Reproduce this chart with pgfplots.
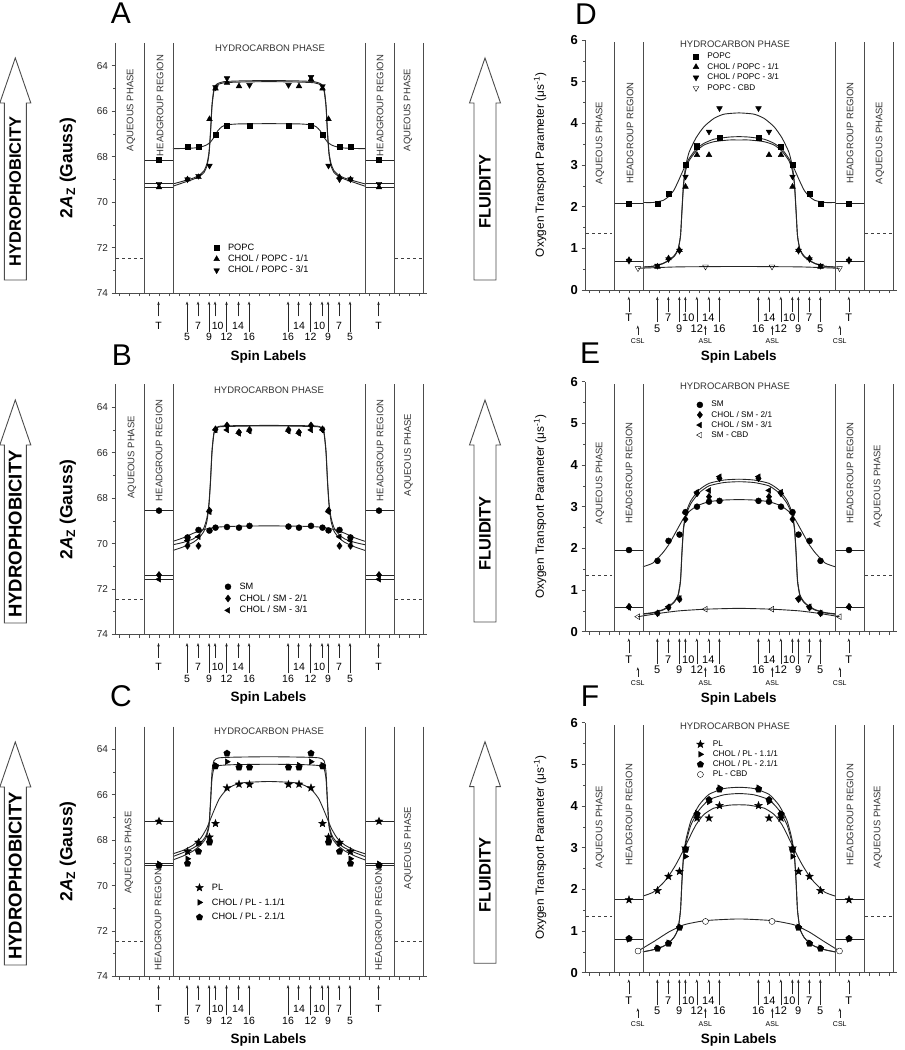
\documentclass[border=0pt]{standalone}
\usepackage{fontspec}
\setmainfont{Liberation Sans}
\usepackage{pgfplots}
\pgfplotsset{compat=1.18}
\usetikzlibrary{arrows.meta}

% filled five-pointed star
\pgfdeclareplotmark{fstar}{%
  \pgfpathmoveto{\pgfpointpolar{90}{\pgfplotmarksize}}%
  \pgfpathlineto{\pgfpointpolar{126}{0.42*\pgfplotmarksize}}%
  \pgfpathlineto{\pgfpointpolar{162}{\pgfplotmarksize}}%
  \pgfpathlineto{\pgfpointpolar{198}{0.42*\pgfplotmarksize}}%
  \pgfpathlineto{\pgfpointpolar{234}{\pgfplotmarksize}}%
  \pgfpathlineto{\pgfpointpolar{270}{0.42*\pgfplotmarksize}}%
  \pgfpathlineto{\pgfpointpolar{306}{\pgfplotmarksize}}%
  \pgfpathlineto{\pgfpointpolar{342}{0.42*\pgfplotmarksize}}%
  \pgfpathlineto{\pgfpointpolar{18}{\pgfplotmarksize}}%
  \pgfpathlineto{\pgfpointpolar{54}{0.42*\pgfplotmarksize}}%
  \pgfpathclose\pgfusepathqfillstroke}

\pgfplotsset{
  panel/.style={anchor=south west, scale only axis, width=312pt, height=250pt, clip=false,
    xmin=-15.4, xmax=15.8, axis x line=bottom, axis y line=left,
    axis line style={-, line width=0.8pt, black!70},
    xtick={-15,...,15}, xticklabels={}, tick align=outside,
    major tick length=3.5pt, minor tick length=2pt,
    every tick/.style={black!70, line width=0.6pt},
    /pgf/number format/assume math mode=true,
    legend cell align=left},
  leftp/.style={panel, ymin=63, ymax=74, y dir=reverse,
    ytick={64,66,...,74}, minor ytick={65,67,...,73},
    yticklabel style={font=\fontsize{10}{10}\selectfont, black!85},
    ylabel={\bfseries 2\textit{A}\textsubscript{Z} (Gauss)},
    every axis y label/.style={at={(axis description cs:-0.151,0.5)}, rotate=90, anchor=center,
      font=\fontsize{17.5}{17.5}\selectfont}},
  rightp/.style={panel, ymin=0, ymax=6, ytick={0,...,6}, minor ytick={0.5,1.5,...,5.5},
    yticklabel style={font=\bfseries\fontsize{13}{13}\selectfont},
    ylabel={Oxygen Transport Parameter (μs\textsuperscript{-1})},
    every axis y label/.style={at={(axis description cs:-0.144,0.5)}, rotate=90, anchor=center,
      font=\fontsize{11.8}{11.8}\selectfont}},
  lg/.style={legend style={at={#1}, anchor=north west, draw=none, fill=none,
      inner sep=0pt, nodes={inner sep=0.6pt},
      /tikz/every odd column/.append style={column sep=8pt}}},
  msq/.style={only marks, black, mark=square*, mark size=2.6pt},
  mup/.style={only marks, black, mark=triangle*, mark size=3.3pt},
  mdn/.style={only marks, black, mark=triangle*, mark size=3.3pt, mark options={rotate=180}},
  mdno/.style={only marks, black, mark=triangle, mark size=3.3pt, mark options={rotate=180, fill=white}},
  mci/.style={only marks, black, mark=*, mark size=3pt},
  mcio/.style={only marks, black, mark=*, mark size=3pt, mark options={fill=white}},
  mdi/.style={only marks, black, mark=diamond*, mark size=3.5pt},
  mlt/.style={only marks, black, mark=triangle*, mark size=3.3pt, mark options={rotate=90}},
  mlto/.style={only marks, black, mark=triangle, mark size=3.3pt, mark options={rotate=90, fill=white}},
  mrt/.style={only marks, black, mark=triangle*, mark size=3.3pt, mark options={rotate=-90}},
  mpe/.style={only marks, black, mark=pentagon*, mark size=3.4pt},
  mst/.style={only marks, black, mark=fstar, mark size=4pt},
  crv/.style={black!85, smooth, tension=0.35, no marks, line width=0.9pt, forget plot},
  tln/.style={black!85, no marks, line width=0.9pt, forget plot},
  dsh/.style={black!75, no marks, line width=0.8pt, dash pattern=on 3pt off 3pt, forget plot},
}
\tikzset{
  vl/.style={black!70, line width=0.8pt},
  reg/.style={font=\fontsize{9.5}{9.5}\selectfont, black!80, rotate=90},
  hcp/.style={font=\fontsize{9.5}{9.5}\selectfont, black!80},
  sarr/.style={-{Stealth[length=3.5pt,width=2.6pt]}, line width=0.5pt, black!85},
}
\newcommand\vlines[2]{\pgfplotsinvokeforeach{-12.5,-9.6,9.6,12.5,15.4}{%
  \draw[vl] (axis cs:##1,#1) -- (axis cs:##1,#2);}}

% spin-label arrows under a left panel; #1 = y of axis bottom
\newcommand\spinL[1]{%
 \begin{scope}[x=1pt, y=1pt, shift={(268.5pt,#1pt)},
   every node/.style={font=\fontsize{10.5}{10.5}\selectfont, inner sep=0pt}]
  \foreach \u/\t/\p in {-11/T/-11,11/T/11,-7.05/7/-7.05,7.05/7/7.05,-5.35/10/-5.08,5.35/10/5.08,-3/14/-3.05,3/14/3.05}{
    \draw[sarr] ({10*\u},-23.5) -- ({10*\u},-8.5);
    \node at ({10*\p},-32.5) {\t};}
  \foreach \u/\t in {-8.15/5,8.15/5,-5.95/9,5.95/9,-4.2/12,4.2/12,-1.95/16,1.95/16}{
    \draw[sarr] ({10*\u},-39) -- ({10*\u},-8.5);
    \node at ({10*\u},-44) {\t};}
  \node[font=\bfseries\fontsize{13.5}{13.5}\selectfont] at (0,-64) {Spin Labels};
 \end{scope}}

% spin-label arrows under a right panel
\newcommand\spinR[1]{%
 \begin{scope}[x=1pt, y=1pt, shift={(738.8pt,#1pt)},
   every node/.style={font=\fontsize{11}{11}\selectfont, inner sep=0pt}]
  \foreach \u/\t/\p in {-11/T/-11,11/T/11,-7.05/7/-7.05,7.05/7/7.05,-5.35/10/-5.05,5.35/10/5.05,-3/14/-3.05,3/14/3.05}{
    \draw[sarr] ({10*\u},-21.7) -- ({10*\u},-6.7);
    \node at ({10*\p},-27.8) {\t};}
  \foreach \u/\t in {-8.15/5,8.15/5,-5.95/9,5.95/9,-4.2/12,4.2/12,-1.95/16,1.95/16}{
    \draw[sarr] ({10*\u},-32) -- ({10*\u},-6.7);
    \node at ({10*\u},-38.3) {\t};}
  \foreach \u/\t in {-10.1/CSL,10.1/CSL,-3.35/ASL,3.35/ASL}{
    \draw[sarr] ({10*\u},-45) -- ({10*\u},-35.5);
    \node[font=\fontsize{7}{7}\selectfont] at ({10*\u},-51) {\t};}
  \node[font=\bfseries\fontsize{13.5}{13.5}\selectfont] at (0,-67) {Spin Labels};
 \end{scope}}

% block arrow: #1 x centre, #2 tip, #3 head base, #4 bottom, #5 text, #6 font size
\newcommand\blockarrow[6]{%
 \begin{scope}[x=1pt, y=1pt]
  \draw[line width=0.9pt, black!70, fill=white] (#1-11,#4) -- (#1-11,#3) -- (#1-15.5,#3)
    -- (#1,#2) -- (#1+15.5,#3) -- (#1+11,#3) -- (#1+11,#4) -- cycle;
  \node[rotate=90, font=\bfseries\fontsize{#6}{#6}\selectfont] at (#1,{(#3+#4)/2}) {#5};
 \end{scope}}

\begin{document}
\begin{tikzpicture}
\useasboundingbox (0pt,0pt) rectangle (905pt,1050pt);

% ================= A =================
\begin{axis}[leftp, at={(115pt,757pt)}, lg={(0.316,0.200)},
  legend style={font=\fontsize{9.2}{9.2}\selectfont, row sep=2pt}]
\addplot[msq] coordinates {(-11,68.15) (-8.15,67.55) (-7.05,67.55) (-5.35,67.05) (-4.2,66.65) (-1.95,66.65) (1.95,66.65) (4.2,66.65) (5.35,67.05) (7.05,67.55) (8.15,67.55) (11,68.15)};
\addlegendentry{POPC}
\addplot[mup] coordinates {(-11,69.35) (-8.15,69.0) (-7.05,68.9) (-5.95,66.35) (-5.35,65.0) (-4.2,64.75) (-3,64.9) (3,64.9) (4.2,64.6) (5.35,65.0) (5.95,66.35) (7.05,68.9) (8.15,69.0) (11,69.35)};
\addlegendentry{CHOL / POPC - 1/1}
\addplot[mdn] coordinates {(-11,69.2) (-8.15,69.0) (-7.05,68.85) (-5.95,68.4) (-5.35,64.95) (-4.2,64.55) (-1.95,64.85) (1.95,64.85) (4.2,64.5) (5.35,64.9) (5.95,68.4) (7.05,69.0) (8.15,69.0) (11,69.2)};
\addlegendentry{CHOL / POPC - 3/1}
\addplot[crv] coordinates {(-9.6,67.65) (-8.5,67.64) (-7.5,67.62) (-6.8,67.57) (-6.3,67.5) (-5.9,67.38) (-5.5,67.15) (-5.1,66.85) (-4.7,66.68) (-4.2,66.6) (-3,66.56) (0,66.55) (3,66.56) (4.2,66.6) (4.7,66.68) (5.1,66.85) (5.5,67.15) (5.9,67.38) (6.3,67.5) (6.8,67.57) (7.5,67.62) (8.5,67.64) (9.6,67.65)};
\addplot[crv] coordinates {(-9.6,69.3) (-8.6,69.15) (-7.6,69.0) (-7,68.88) (-6.5,68.7) (-6.2,68.4) (-6.0,67.9) (-5.85,67.0) (-5.7,65.8) (-5.5,65.1) (-5.2,64.85) (-4.5,64.75) (-3,64.72) (0,64.7) (3,64.72) (4.5,64.75) (5.2,64.85) (5.5,65.1) (5.7,65.8) (5.85,67.0) (6.0,67.9) (6.2,68.4) (6.5,68.7) (7,68.88) (7.6,69.0) (8.6,69.15) (9.6,69.3)};
\addplot[crv] coordinates {(-9.6,69.2) (-8.6,69.08) (-7.6,68.95) (-7,68.82) (-6.5,68.62) (-6.2,68.3) (-6.0,67.8) (-5.85,66.9) (-5.7,65.7) (-5.5,65.0) (-5.2,64.8) (-4.5,64.7) (-3,64.67) (0,64.65) (3,64.67) (4.5,64.7) (5.2,64.8) (5.5,65.0) (5.7,65.7) (5.85,66.9) (6.0,67.8) (6.2,68.3) (6.5,68.62) (7,68.82) (7.6,68.95) (8.6,69.08) (9.6,69.2)};
\addplot[tln] coordinates {(-12.5,68.15) (-9.6,68.15)};
\addplot[tln] coordinates {(-12.5,69.2) (-9.6,69.2)};
\addplot[tln] coordinates {(-12.5,69.35) (-9.6,69.35)};
\addplot[tln] coordinates {(9.6,68.15) (12.5,68.15)};
\addplot[tln] coordinates {(9.6,69.2) (12.5,69.2)};
\addplot[tln] coordinates {(9.6,69.35) (12.5,69.35)};
\addplot[dsh] coordinates {(-15.3,72.47) (-12.6,72.47)};
\addplot[dsh] coordinates {(12.6,72.47) (15.3,72.47)};
\vlines{63}{74}
\node[reg] at (axis cs:-13.8,65.95) {AQUEOUS PHASE};
\node[reg] at (axis cs:-10.9,65.75) {HEADGROUP REGION};
\node[reg] at (axis cs:11.1,65.75) {HEADGROUP REGION};
\node[reg] at (axis cs:13.9,65.95) {AQUEOUS PHASE};
\node[hcp] at (axis cs:0.1,63.25) {HYDROCARBON PHASE};
\end{axis}

% ================= B =================
\begin{axis}[leftp, at={(115pt,415.5pt)}, lg={(0.351,0.210)},
  legend style={font=\fontsize{9.2}{9.2}\selectfont, row sep=2.5pt}]
\addplot[mci] coordinates {(-11,68.55) (-8.15,69.73) (-7.05,69.4) (-5.95,69.43) (-5.35,69.3) (-4.2,69.27) (-3,69.3) (-1.95,69.22) (1.95,69.25) (3,69.3) (4.2,69.22) (5.35,69.3) (5.95,69.42) (7.05,69.4) (8.15,69.73) (11,68.55)};
\addlegendentry{SM}
\addplot[mdi] coordinates {(-11,71.38) (-8.15,70.1) (-7.05,70.1) (-5.95,68.55) (-5.35,64.97) (-4.2,64.8) (-3,65.1) (-1.95,65.0) (1.95,65.0) (3,65.1) (4.2,64.8) (5.35,64.97) (5.95,68.55) (7.05,70.1) (8.15,70.1) (11,71.38)};
\addlegendentry{CHOL / SM - 2/1}
\addplot[mlt] coordinates {(-11,71.57) (-8.15,69.87) (-7.05,69.7) (-5.95,68.6) (-5.35,65.0) (-4.2,65.0) (-3,65.15) (-1.95,65.05) (1.95,65.05) (3,65.15) (4.2,65.0) (5.35,65.0) (5.95,68.6) (7.05,69.7) (8.15,69.87) (11,71.57)};
\addlegendentry{CHOL / SM - 3/1}
\addplot[crv] coordinates {(-9.6,69.9) (-8.6,69.75) (-7.6,69.55) (-6.8,69.42) (-6,69.33) (-5,69.27) (-3.5,69.24) (0,69.22) (3.5,69.24) (5,69.27) (6,69.33) (6.8,69.42) (7.6,69.55) (8.6,69.75) (9.6,69.9)};
\addplot[crv] coordinates {(-9.6,70.3) (-8.6,70.15) (-7.6,69.95) (-7,69.75) (-6.5,69.45) (-6.2,69.0) (-6.0,68.3) (-5.85,67.3) (-5.7,66.0) (-5.5,65.15) (-5.2,64.9) (-4.5,64.85) (0,64.82) (4.5,64.85) (5.2,64.9) (5.5,65.15) (5.7,66.0) (5.85,67.3) (6.0,68.3) (6.2,69.0) (6.5,69.45) (7,69.75) (7.6,69.95) (8.6,70.15) (9.6,70.3)};
\addplot[crv] coordinates {(-9.6,70.05) (-8.6,69.95) (-7.6,69.8) (-7,69.6) (-6.5,69.3) (-6.2,68.85) (-6.0,68.2) (-5.85,67.2) (-5.7,65.9) (-5.5,65.1) (-5.2,64.88) (-4.5,64.82) (0,64.8) (4.5,64.82) (5.2,64.88) (5.5,65.1) (5.7,65.9) (5.85,67.2) (6.0,68.2) (6.2,68.85) (6.5,69.3) (7,69.6) (7.6,69.8) (8.6,69.95) (9.6,70.05)};
\addplot[tln] coordinates {(-12.5,68.55) (-9.6,68.55)};
\addplot[tln] coordinates {(-12.5,71.38) (-9.6,71.38)};
\addplot[tln] coordinates {(-12.5,71.57) (-9.6,71.57)};
\addplot[tln] coordinates {(9.6,68.55) (12.5,68.55)};
\addplot[tln] coordinates {(9.6,71.38) (12.5,71.38)};
\addplot[tln] coordinates {(9.6,71.57) (12.5,71.57)};
\addplot[dsh] coordinates {(-15.3,72.45) (-12.6,72.45)};
\addplot[dsh] coordinates {(12.6,72.45) (15.3,72.45)};
\vlines{63}{74}
\node[reg] at (axis cs:-13.7,66.2) {AQUEOUS PHASE};
\node[reg] at (axis cs:-11.0,65.9) {HEADGROUP REGION};
\node[reg] at (axis cs:11.1,65.9) {HEADGROUP REGION};
\node[reg] at (axis cs:13.95,66.1) {AQUEOUS PHASE};
\node[hcp] at (axis cs:0,63.24) {HYDROCARBON PHASE};
\end{axis}

% ================= C =================
\begin{axis}[leftp, at={(115pt,73.5pt)}, lg={(0.258,0.374)},
  legend style={font=\fontsize{9.2}{9.2}\selectfont, row sep=5.5pt}]
\addplot[mst] coordinates {(-11,67.17) (-8.15,68.5) (-7.05,68.1) (-5.95,67.87) (-5.35,67.27) (-4.2,65.7) (-3,65.54) (-1.95,65.55) (1.95,65.55) (3,65.54) (4.2,65.7) (5.35,67.27) (5.95,67.87) (7.05,68.1) (8.15,68.5) (11,67.17)};
\addlegendentry{PL}
\addplot[mrt] coordinates {(-11,69.04) (-8.15,68.82) (-7.05,68.15) (-5.95,68.0) (-5.35,64.7) (-4.2,64.55) (-3,64.7) (-1.95,64.77) (1.95,64.77) (3,64.7) (4.2,64.55) (5.35,64.7) (5.95,68.0) (7.05,68.15) (8.15,68.82) (11,69.04)};
\addlegendentry{CHOL / PL - 1.1/1}
\addplot[mpe] coordinates {(-11,69.12) (-8.15,69.03) (-7.05,68.5) (-5.95,68.1) (-5.35,64.75) (-4.2,64.18) (-3,64.8) (-1.95,64.8) (1.95,64.8) (3,64.8) (4.2,64.18) (5.35,64.75) (5.95,68.1) (7.05,68.5) (8.15,69.03) (11,69.12)};
\addlegendentry{CHOL / PL - 2.1/1}
\addplot[crv] coordinates {(-9.6,68.6) (-8.6,68.45) (-7.6,68.22) (-6.8,67.9) (-6.2,67.45) (-5.6,66.8) (-5,66.2) (-4.4,65.85) (-3.6,65.6) (-2.5,65.47) (0,65.42) (2.5,65.47) (3.6,65.6) (4.4,65.85) (5,66.2) (5.6,66.8) (6.2,67.45) (6.8,67.9) (7.6,68.22) (8.6,68.45) (9.6,68.6)};
\addplot[crv] coordinates {(-9.6,68.72) (-8.6,68.55) (-7.6,68.35) (-6.8,68.1) (-6.3,67.8) (-6.0,67.3) (-5.85,66.4) (-5.7,65.3) (-5.5,64.85) (-5.0,64.72) (-3.5,64.68) (0,64.66) (3.5,64.68) (5.0,64.72) (5.5,64.85) (5.7,65.3) (5.85,66.4) (6.0,67.3) (6.3,67.8) (6.8,68.1) (7.6,68.35) (8.6,68.55) (9.6,68.72)};
\addplot[crv] coordinates {(-9.6,68.87) (-8.6,68.7) (-7.6,68.48) (-6.8,68.2) (-6.3,67.9) (-6.0,67.4) (-5.85,66.3) (-5.7,65.0) (-5.5,64.5) (-5.0,64.38) (-3.5,64.35) (0,64.33) (3.5,64.35) (5.0,64.38) (5.5,64.5) (5.7,65.0) (5.85,66.3) (6.0,67.4) (6.3,67.9) (6.8,68.2) (7.6,68.48) (8.6,68.7) (9.6,68.87)};
\addplot[tln] coordinates {(-12.5,67.17) (-9.6,67.17)};
\addplot[tln] coordinates {(-12.5,69.04) (-9.6,69.04)};
\addplot[tln] coordinates {(-12.5,69.12) (-9.6,69.12)};
\addplot[tln] coordinates {(9.6,67.17) (12.5,67.17)};
\addplot[tln] coordinates {(9.6,69.04) (12.5,69.04)};
\addplot[tln] coordinates {(9.6,69.12) (12.5,69.12)};
\addplot[dsh] coordinates {(-15.3,72.47) (-12.6,72.47)};
\addplot[dsh] coordinates {(12.6,72.47) (15.3,72.47)};
\vlines{63}{74}
\node[reg] at (axis cs:-14.0,68.55) {AQUEOUS PHASE};
\node[reg] at (axis cs:-11.1,71.5) {HEADGROUP REGION};
\node[reg] at (axis cs:10.95,71.5) {HEADGROUP REGION};
\node[reg] at (axis cs:13.95,68.35) {AQUEOUS PHASE};
\node[hcp] at (axis cs:0,63.2) {HYDROCARBON PHASE};
\end{axis}

% ================= D =================
\begin{axis}[rightp, at={(585pt,760pt)}, lg={(0.346,0.952)},
  legend style={font=\fontsize{8.2}{8.2}\selectfont, row sep=2pt}]
\addplot[msq] coordinates {(-11,2.08) (-8.15,2.08) (-7.05,2.32) (-5.35,3.0) (-4.2,3.44) (-1.95,3.66) (1.95,3.66) (4.2,3.44) (5.35,3.0) (7.05,2.32) (8.15,2.08) (11,2.08)};
\addlegendentry{POPC}
\addplot[mup] coordinates {(-11,0.72) (-8.15,0.56) (-7.05,0.76) (-5.95,0.96) (-5.35,2.48) (-4.2,3.24) (-3,3.24) (3,3.24) (4.2,3.24) (5.35,2.48) (5.95,0.96) (7.05,0.76) (8.15,0.56) (11,0.72)};
\addlegendentry{CHOL / POPC - 1/1}
\addplot[mdn] coordinates {(-11,0.7) (-8.15,0.58) (-7.05,0.74) (-5.95,0.94) (-5.35,2.72) (-4.2,3.48) (-3,3.8) (-1.95,4.36) (1.95,4.36) (3,3.8) (4.2,3.44) (5.35,2.72) (5.95,0.94) (7.05,0.74) (8.15,0.58) (11,0.7)};
\addlegendentry{CHOL / POPC - 3/1}
\addplot[mdno] coordinates {(-10.1,0.52) (-3.35,0.56) (3.3,0.56) (10.05,0.52)};
\addlegendentry{POPC - CBD}
\addplot[crv] coordinates {(-9.6,2.1) (-8.6,2.1) (-7.6,2.15) (-7,2.25) (-6.5,2.4) (-6,2.65) (-5.5,2.92) (-5,3.15) (-4.3,3.38) (-3.5,3.52) (-2.5,3.62) (-1,3.67) (0,3.68) (1,3.67) (2.5,3.62) (3.5,3.52) (4.3,3.38) (5,3.15) (5.5,2.92) (6,2.65) (6.5,2.4) (7,2.25) (7.6,2.15) (8.6,2.1) (9.6,2.1)};
\addplot[crv] coordinates {(-9.6,0.55) (-8.6,0.57) (-7.6,0.64) (-7,0.72) (-6.5,0.82) (-6.1,0.98) (-5.85,1.3) (-5.7,1.9) (-5.55,2.5) (-5.35,2.85) (-5,3.1) (-4.3,3.33) (-3.5,3.48) (-2.5,3.56) (-1,3.6) (0,3.6) (1,3.6) (2.5,3.56) (3.5,3.48) (4.3,3.33) (5,3.1) (5.35,2.85) (5.55,2.5) (5.7,1.9) (5.85,1.3) (6.1,0.98) (6.5,0.82) (7,0.72) (7.6,0.64) (8.6,0.57) (9.6,0.55)};
\addplot[crv] coordinates {(-9.6,0.55) (-8.6,0.57) (-7.6,0.63) (-7,0.71) (-6.5,0.8) (-6.1,0.96) (-5.85,1.3) (-5.7,1.95) (-5.55,2.55) (-5.35,2.95) (-5,3.3) (-4.3,3.65) (-3.5,3.92) (-2.5,4.12) (-1.5,4.22) (0,4.25) (1.5,4.22) (2.5,4.12) (3.5,3.92) (4.3,3.65) (5,3.3) (5.35,2.95) (5.55,2.55) (5.7,1.95) (5.85,1.3) (6.1,0.96) (6.5,0.8) (7,0.71) (7.6,0.63) (8.6,0.57) (9.6,0.55)};
\addplot[crv] coordinates {(-10.1,0.52) (-8,0.54) (-6,0.555) (-3.35,0.56) (0,0.565) (3.3,0.56) (6,0.555) (8,0.54) (10.05,0.52)};
\addplot[tln] coordinates {(-12.5,2.08) (-9.6,2.08)};
\addplot[tln] coordinates {(-12.5,0.68) (-9.6,0.68)};
\addplot[tln] coordinates {(9.6,2.08) (12.5,2.08)};
\addplot[tln] coordinates {(9.6,0.68) (12.5,0.68)};
\addplot[dsh] coordinates {(-15.3,1.36) (-12.7,1.36)};
\addplot[dsh] coordinates {(12.6,1.36) (15.3,1.36)};
\vlines{0}{5.95}
\node[reg] at (axis cs:-13.9,3.53) {AQUEOUS PHASE};
\node[reg] at (axis cs:-10.9,3.77) {HEADGROUP REGION};
\node[reg] at (axis cs:11.1,3.77) {HEADGROUP REGION};
\node[reg] at (axis cs:14.1,3.53) {AQUEOUS PHASE};
\node[hcp] at (axis cs:-0.4,5.9) {HYDROCARBON PHASE};
\end{axis}

% ================= E =================
\begin{axis}[rightp, at={(585pt,418.3pt)}, lg={(0.357,0.925)},
  legend style={font=\fontsize{8.2}{8.2}\selectfont, row sep=1.5pt}]
\addplot[mci] coordinates {(-11,1.96) (-8.15,1.7) (-7.05,2.18) (-5.95,2.33) (-5.35,2.87) (-4.2,3.0) (-3,3.12) (-1.95,3.14) (1.95,3.14) (3,3.12) (4.2,3.0) (5.35,2.87) (5.95,2.33) (7.05,2.18) (8.15,1.7) (11,1.96)};
\addlegendentry{SM}
\addplot[mdi] coordinates {(-11,0.6) (-8.15,0.44) (-7.05,0.58) (-5.95,0.78) (-5.35,2.7) (-4.2,3.32) (-3,3.24) (-1.95,3.68) (1.95,3.68) (3,3.24) (4.2,3.32) (5.35,2.7) (5.95,0.78) (7.05,0.58) (8.15,0.44) (11,0.6)};
\addlegendentry{CHOL / SM - 2/1}
\addplot[mlt] coordinates {(-11,0.58) (-8.15,0.45) (-7.05,0.6) (-5.95,0.8) (-5.35,2.85) (-4.2,3.35) (-3,3.39) (-1.95,3.72) (1.95,3.72) (3,3.39) (4.2,3.35) (5.35,2.85) (5.95,0.8) (7.05,0.6) (8.15,0.45) (11,0.58)};
\addlegendentry{CHOL / SM - 3/1}
\addplot[mlto] coordinates {(-10.1,0.36) (-3.35,0.54) (3.3,0.54) (10.05,0.36)};
\addlegendentry{SM - CBD}
\addplot[crv] coordinates {(-9.6,1.56) (-8.6,1.65) (-7.6,1.9) (-7,2.1) (-6.3,2.4) (-5.6,2.7) (-5,2.88) (-4.2,3.02) (-3,3.12) (-1.5,3.16) (0,3.17) (1.5,3.16) (3,3.12) (4.2,3.02) (5,2.88) (5.6,2.7) (6.3,2.4) (7,2.1) (7.6,1.9) (8.6,1.65) (9.6,1.56)};
\addplot[crv] coordinates {(-9.6,0.42) (-8.6,0.45) (-7.6,0.52) (-7,0.6) (-6.5,0.7) (-6.1,0.85) (-5.85,1.2) (-5.7,1.9) (-5.55,2.45) (-5.3,2.8) (-4.8,3.08) (-4,3.33) (-3,3.5) (-1.5,3.58) (0,3.6) (1.5,3.58) (3,3.5) (4,3.33) (4.8,3.08) (5.3,2.8) (5.55,2.45) (5.7,1.9) (5.85,1.2) (6.1,0.85) (6.5,0.7) (7,0.6) (7.6,0.52) (8.6,0.45) (9.6,0.42)};
\addplot[crv] coordinates {(-9.6,0.43) (-8.6,0.46) (-7.6,0.53) (-7,0.61) (-6.5,0.72) (-6.1,0.88) (-5.85,1.25) (-5.7,1.95) (-5.55,2.5) (-5.3,2.86) (-4.8,3.15) (-4,3.4) (-3,3.56) (-1.5,3.64) (0,3.66) (1.5,3.64) (3,3.56) (4,3.4) (4.8,3.15) (5.3,2.86) (5.55,2.5) (5.7,1.95) (5.85,1.25) (6.1,0.88) (6.5,0.72) (7,0.61) (7.6,0.53) (8.6,0.46) (9.6,0.43)};
\addplot[crv] coordinates {(-10.1,0.36) (-8,0.44) (-6,0.5) (-3.35,0.54) (0,0.56) (3.3,0.54) (6,0.5) (8,0.44) (10.05,0.36)};
\addplot[tln] coordinates {(-12.5,1.96) (-9.6,1.96)};
\addplot[tln] coordinates {(-12.5,0.59) (-9.6,0.59)};
\addplot[tln] coordinates {(9.6,1.96) (12.5,1.96)};
\addplot[tln] coordinates {(9.6,0.59) (12.5,0.59)};
\addplot[dsh] coordinates {(-15.3,1.36) (-12.7,1.36)};
\addplot[dsh] coordinates {(12.6,1.36) (15.3,1.36)};
\vlines{0}{5.95}
\node[reg] at (axis cs:-13.9,3.57) {AQUEOUS PHASE};
\node[reg] at (axis cs:-11.0,3.81) {HEADGROUP REGION};
\node[reg] at (axis cs:11.1,3.81) {HEADGROUP REGION};
\node[reg] at (axis cs:13.9,3.5) {AQUEOUS PHASE};
\node[hcp] at (axis cs:-0.4,5.88) {HYDROCARBON PHASE};
\end{axis}

% ================= F =================
\begin{axis}[rightp, at={(585pt,77.3pt)}, lg={(0.357,0.931)},
  legend style={font=\fontsize{8.2}{8.2}\selectfont, row sep=1.5pt}]
\addplot[mst] coordinates {(-11,1.75) (-8.15,1.97) (-7.05,2.31) (-5.95,2.43) (-5.35,2.99) (-4.2,3.71) (-3,3.71) (-1.95,4.01) (1.95,4.01) (3,3.71) (4.2,3.71) (5.35,2.99) (5.95,2.43) (7.05,2.31) (8.15,1.97) (11,1.75)};
\addlegendentry{PL}
\addplot[mrt] coordinates {(-11,0.8) (-8.15,0.6) (-7.05,0.72) (-5.95,1.1) (-5.35,2.79) (-4.2,3.83) (-3,4.1) (-1.95,4.44) (1.95,4.44) (3,4.1) (4.2,3.83) (5.35,2.79) (5.95,1.1) (7.05,0.72) (8.15,0.6) (11,0.8)};
\addlegendentry{CHOL / PL - 1.1/1}
\addplot[mpe] coordinates {(-11,0.82) (-8.15,0.58) (-7.05,0.7) (-5.95,1.08) (-5.35,2.95) (-4.2,3.8) (-3,4.15) (-1.95,4.4) (1.95,4.4) (3,4.15) (4.2,3.8) (5.35,2.95) (5.95,1.08) (7.05,0.7) (8.15,0.58) (11,0.82)};
\addlegendentry{CHOL / PL - 2.1/1}
\addplot[mcio] coordinates {(-10.1,0.52) (-3.35,1.23) (3.3,1.23) (10.05,0.52)};
\addlegendentry{PL - CBD}
\addplot[crv] coordinates {(-9.6,1.84) (-8.6,1.93) (-7.6,2.15) (-7,2.33) (-6.3,2.6) (-5.6,2.92) (-5,3.22) (-4.3,3.55) (-3.5,3.8) (-2.5,3.95) (-1,4.02) (0,4.03) (1,4.02) (2.5,3.95) (3.5,3.8) (4.3,3.55) (5,3.22) (5.6,2.92) (6.3,2.6) (7,2.33) (7.6,2.15) (8.6,1.93) (9.6,1.84)};
\addplot[crv] coordinates {(-9.6,0.5) (-8.6,0.55) (-7.6,0.63) (-7,0.72) (-6.5,0.85) (-6.1,1.05) (-5.85,1.5) (-5.7,2.2) (-5.55,2.75) (-5.3,3.12) (-4.8,3.55) (-4,3.9) (-3,4.15) (-1.5,4.27) (0,4.3) (1.5,4.27) (3,4.15) (4,3.9) (4.8,3.55) (5.3,3.12) (5.55,2.75) (5.7,2.2) (5.85,1.5) (6.1,1.05) (6.5,0.85) (7,0.72) (7.6,0.63) (8.6,0.55) (9.6,0.5)};
\addplot[crv] coordinates {(-9.6,0.5) (-8.6,0.55) (-7.6,0.63) (-7,0.72) (-6.5,0.85) (-6.1,1.05) (-5.85,1.5) (-5.7,2.25) (-5.55,2.8) (-5.3,3.2) (-4.8,3.65) (-4,4.02) (-3,4.28) (-1.5,4.42) (0,4.45) (1.5,4.42) (3,4.28) (4,4.02) (4.8,3.65) (5.3,3.2) (5.55,2.8) (5.7,2.25) (5.85,1.5) (6.1,1.05) (6.5,0.85) (7,0.72) (7.6,0.63) (8.6,0.55) (9.6,0.5)};
\addplot[crv] coordinates {(-10.1,0.52) (-8.5,0.75) (-7,0.98) (-5.5,1.15) (-3.35,1.25) (0,1.29) (3.3,1.25) (5.5,1.15) (7,0.98) (8.5,0.75) (10.05,0.52)};
\addplot[tln] coordinates {(-12.5,1.75) (-9.6,1.75)};
\addplot[tln] coordinates {(-12.5,0.8) (-9.6,0.8)};
\addplot[tln] coordinates {(9.6,1.75) (12.5,1.75)};
\addplot[tln] coordinates {(9.6,0.8) (12.5,0.8)};
\addplot[dsh] coordinates {(-15.3,1.36) (-12.7,1.36)};
\addplot[dsh] coordinates {(12.6,1.36) (15.3,1.36)};
\vlines{0}{5.95}
\node[reg] at (axis cs:-13.9,3.5) {AQUEOUS PHASE};
\node[reg] at (axis cs:-11.0,3.79) {HEADGROUP REGION};
\node[reg] at (axis cs:11.1,3.79) {HEADGROUP REGION};
\node[reg] at (axis cs:13.9,3.5) {AQUEOUS PHASE};
\node[hcp] at (axis cs:-0.4,5.92) {HYDROCARBON PHASE};
\end{axis}

% ---------- annotations ----------
\spinL{757}
\spinL{415.5}
\spinL{73.5}
\spinR{760}
\spinR{418.3}
\spinR{77.3}

\blockarrow{15.3}{992}{947}{770}{HYDROPHOBICITY}{16.5}
\blockarrow{15.3}{650}{605}{427}{HYDROPHOBICITY}{18.5}
\blockarrow{15.3}{308}{263}{85}{HYDROPHOBICITY}{18.5}
\blockarrow{485}{992}{947}{770}{FLUIDITY}{16.5}
\blockarrow{485}{650}{605}{428}{FLUIDITY}{16.5}
\blockarrow{485}{308.3}{263.3}{86.7}{FLUIDITY}{16.5}

\begin{scope}[x=1pt, y=1pt, every node/.style={font=\fontsize{30}{30}\selectfont, inner sep=0pt}]
\node at (121,1037) {A};
\node at (122,695) {B};
\node at (121,354) {C};
\node at (586,1036) {D};
\node at (590,697) {E};
\node at (590,354) {F};
\end{scope}
\end{tikzpicture}
\end{document}
